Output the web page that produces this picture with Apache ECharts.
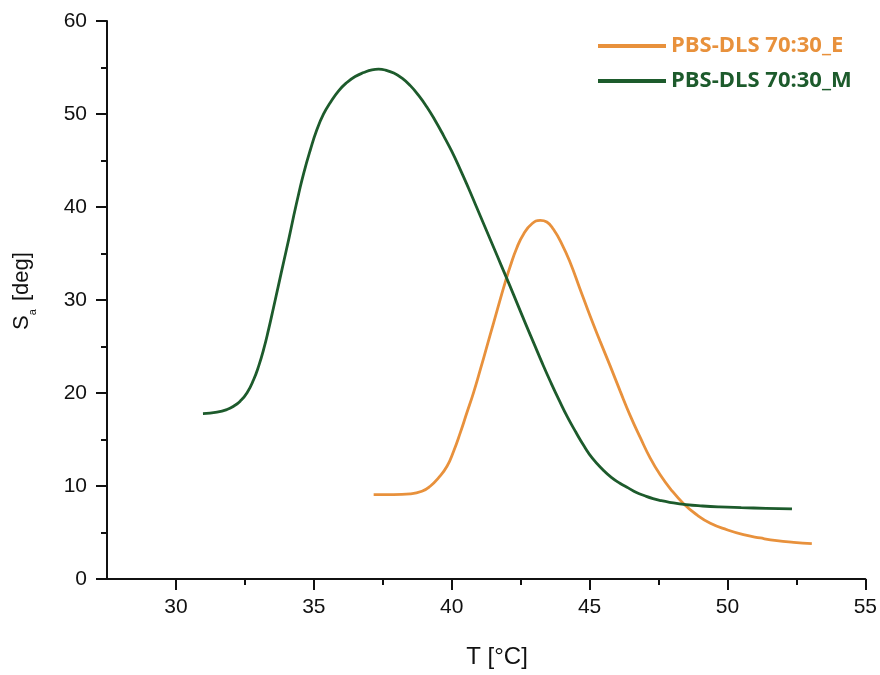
<!DOCTYPE html>
<html>
<head>
<meta charset="utf-8">
<script src="https://cdn.jsdelivr.net/npm/echarts@6/dist/echarts.min.js"></script>
<style>html,body{margin:0;padding:0;background:#fff;}#c{width:880px;height:675px;}</style>
</head>
<body>
<div id="c"></div>
<script>
const seriesNames = ['PBS-DLS 70:30_E', 'PBS-DLS 70:30_M'];
const seriesColors = ['#E8913C', '#1D5B2C'];
const xTitle = 'T [°C]';
const yTitle = '{s|S}{a|a}{s| [deg]}';

const eT  = [37.17, 37.89, 38.50, 38.92, 39.22, 39.52, 39.83, 40.07, 40.31, 40.55, 40.79, 41.04, 41.28, 41.52, 41.76, 41.94, 42.12, 42.36, 42.61, 42.91, 43.21, 43.45, 43.69, 44.00, 44.30, 44.66, 45.02, 45.38, 45.75, 46.11, 46.47, 46.84, 47.20, 47.56, 47.93, 48.41, 48.89, 49.38, 49.98, 50.58, 51.19, 51.79, 52.40, 53.06];
const eSa = [9.07, 9.07, 9.15, 9.43, 9.97, 10.87, 12.12, 13.74, 15.71, 17.87, 20.02, 22.53, 25.04, 27.55, 30.06, 31.9, 33.6, 35.6, 37.1, 38.2, 38.57, 38.39, 37.60, 35.99, 34.01, 31.14, 28.27, 25.58, 22.89, 20.20, 17.6, 15.2, 13.0, 11.2, 9.7, 8.1, 6.9, 6.0, 5.3, 4.77, 4.41, 4.12, 3.94, 3.80];

const mT  = [30.98, 31.49, 31.85, 32.09, 32.33, 32.58, 32.82, 33.00, 33.18, 33.36, 33.54, 33.72, 33.90, 34.09, 34.27, 34.45, 34.63, 34.87, 35.11, 35.35, 35.60, 35.90, 36.20, 36.50, 36.81, 37.11, 37.35, 37.6, 37.9, 38.2, 38.5, 38.8, 39.1, 39.4, 39.7, 40.0, 40.3, 40.6, 40.9, 41.2, 41.5, 41.8, 42.1, 42.4, 42.7, 43.0, 43.3, 43.6, 43.9, 44.2, 44.5, 44.8, 45.1, 45.5, 45.8, 46.1, 46.4, 46.7, 47.0, 47.3, 47.6, 47.9, 48.5, 49.1, 49.7, 50.5, 51.4, 52.34];
const mSa = [17.79, 17.94, 18.22, 18.58, 19.12, 20.02, 21.45, 22.89, 24.68, 26.84, 29.2, 31.6, 34.01, 36.52, 39.03, 41.4, 43.6, 46.1, 48.3, 49.98, 51.23, 52.49, 53.39, 54.03, 54.46, 54.75, 54.82, 54.72, 54.40, 53.85, 53.05, 52.0, 50.75, 49.3, 47.7, 46.0, 44.1, 42.1, 40.0, 37.9, 35.8, 33.7, 31.6, 29.45, 27.3, 25.2, 23.1, 21.1, 19.2, 17.4, 15.8, 14.3, 13.0, 11.7, 10.9, 10.3, 9.8, 9.3, 8.95, 8.65, 8.42, 8.25, 8.0, 7.85, 7.75, 7.67, 7.6, 7.53];

const xMajorTicks = [30, 35, 40, 45, 50, 55];
const xMinorTicks = [32.5, 37.5, 42.5, 47.5, 52.5];

const chart = echarts.init(document.getElementById('c'), null, {renderer: 'canvas'});
const pair = (xs, ys) => xs.map((x, i) => [x, ys[i]]);
const axisFont = 'Liberation Sans, Arial, sans-serif';
const ink = '#111';

chart.setOption({
  backgroundColor: '#fff',
  animation: false,
  grid: {left: 107, right: 14, top: 21, bottom: 96, containLabel: false},
  legend: {
    orient: 'vertical',
    left: 593, top: 30,
    itemWidth: 68, itemHeight: 4, itemGap: 13,
    icon: 'rect',
    data: [
      {name: seriesNames[0], textStyle: {color: seriesColors[0]}},
      {name: seriesNames[1], textStyle: {color: seriesColors[1]}}
    ],
    textStyle: {fontFamily: 'Open Sans, sans-serif', fontWeight: 'bold', fontSize: 22, lineHeight: 22},
    itemStyle: {borderWidth: 0}
  },
  graphic: [
    {type: 'text', x: 497, y: 657,
     style: {text: xTitle, font: '24px Liberation Sans, Arial, sans-serif', fill: ink, align: 'center', verticalAlign: 'middle'}},
    {type: 'text', x: 20, y: 291, rotation: Math.PI / 2,
     style: {text: yTitle, fill: ink, align: 'center', verticalAlign: 'middle',
       rich: {
         s: {fontFamily: axisFont, fontSize: 22, fill: ink, lineHeight: 26, verticalAlign: 'bottom'},
         a: {fontFamily: axisFont, fontSize: 11, fill: ink, lineHeight: 26, verticalAlign: 'bottom', padding: [0, 2, -5, 0]}
       }}}
  ],
  xAxis: [{
    type: 'value', min: 27.5, max: 55,
    axisLine: {show: true, onZero: false, lineStyle: {color: ink, width: 2}},
    axisTick: {show: true, length: 11, lineStyle: {color: ink, width: 2}, customValues: xMajorTicks},
    axisLabel: {fontFamily: axisFont, fontSize: 21, color: ink, margin: 18, customValues: xMajorTicks},
    splitLine: {show: false}
  }, {
    type: 'value', min: 27.5, max: 55, position: 'bottom',
    axisLine: {show: false},
    axisTick: {show: true, length: 6, lineStyle: {color: ink, width: 2}, customValues: xMinorTicks},
    axisLabel: {show: false},
    splitLine: {show: false}
  }],
  yAxis: {
    type: 'value', min: 0, max: 60, interval: 10,
    axisLine: {show: true, lineStyle: {color: ink, width: 2}},
    axisTick: {show: true, length: 11, lineStyle: {color: ink, width: 2}},
    minorTick: {show: true, splitNumber: 2, length: 6, lineStyle: {color: ink, width: 2}},
    axisLabel: {fontFamily: axisFont, fontSize: 21, color: ink, margin: 20},
    splitLine: {show: false}
  },
  series: [
    {name: seriesNames[0], type: 'line', data: pair(eT, eSa), smooth: 0.5, showSymbol: false, symbol: 'none',
     color: seriesColors[0], lineStyle: {color: seriesColors[0], width: 2.8}},
    {name: seriesNames[1], type: 'line', data: pair(mT, mSa), smooth: 0.5, showSymbol: false, symbol: 'none',
     color: seriesColors[1], lineStyle: {color: seriesColors[1], width: 2.8}}
  ]
});
</script>
</body>
</html>
